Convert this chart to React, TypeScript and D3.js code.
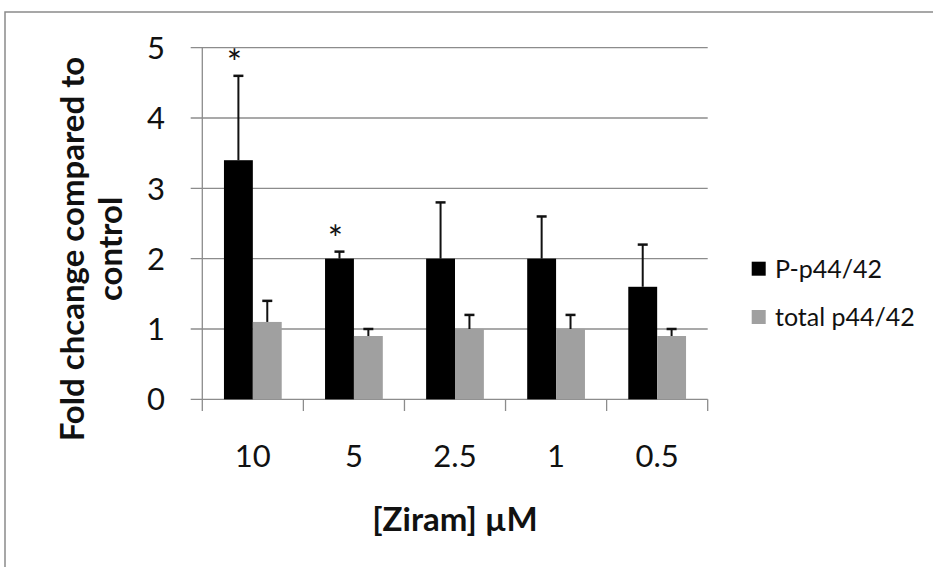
import React from "react";
import * as d3 from "d3";

const categories = ["10", "5", "2.5", "1", "0.5"];
const seriesNames = ["P-p44/42", "total p44/42"];
const pValues = [3.4, 2.0, 2.0, 2.0, 1.6];
const pErrors = [1.2, 0.1, 0.8, 0.6, 0.6];
const totalValues = [1.1, 0.9, 1.0, 1.0, 0.9];
const totalErrors = [0.3, 0.1, 0.2, 0.2, 0.1];
const significance = ["*", "*", "", "", ""];
const yTicks = [0, 1, 2, 3, 4, 5];
const seriesColors = ["#000000", "#a0a0a0"];

const W = 933;
const H = 567;
const FONT = "Lato, 'Open Sans', sans-serif";

export default function App() {
  const left = 202.3;
  const right = 707.7;
  const top = 47.7;
  const bottom = 399.3;

  const x = d3.scaleBand<string>().domain(categories).range([left, right]).paddingInner(0).paddingOuter(0);
  const y = d3.scaleLinear().domain([0, 5]).range([bottom, top]);
  const bw = x.bandwidth();
  const barW = bw / 3.5; // gap width 150%
  const sub = d3.scaleBand<string>().domain(seriesNames).range([0.75 * barW, 2.75 * barW]);

  const series = [
    { name: seriesNames[0], values: pValues, errors: pErrors, color: seriesColors[0] },
    { name: seriesNames[1], values: totalValues, errors: totalErrors, color: seriesColors[1] },
  ];

  const gridColor = "#8c8c8c";
  const boundaries = [...categories.map((c) => x(c) as number), right];

  return (
    <svg width={W} height={H} style={{ position: "absolute", left: 0, top: 0, background: "#fff" }}>
      <rect x={5} y={12} width={W + 20} height={H + 20} fill="#fff" stroke="#8a8a8a" strokeWidth={1.5} />
      {yTicks.map((t) => (
        <line key={"g" + t} x1={190.7} x2={right} y1={y(t)} y2={y(t)} stroke={gridColor} strokeWidth={1.3} />
      ))}
      <line x1={left} x2={left} y1={top} y2={bottom} stroke={gridColor} strokeWidth={1.3} />
      {boundaries.map((b, i) => (
        <line key={"xt" + i} x1={b} x2={b} y1={bottom} y2={411} stroke={gridColor} strokeWidth={1.3} />
      ))}
      {yTicks.map((t) => (
        <text key={"yl" + t} x={165} y={y(t)} dy="0.36em" textAnchor="end" fontFamily={FONT} fontSize={31} fill="#111">
          {t}
        </text>
      ))}
      {series.map((s) =>
        categories.map((c, i) => {
          const bx = (x(c) as number) + (sub(s.name) as number);
          return (
            <rect key={s.name + c} x={bx} y={y(s.values[i])} width={sub.bandwidth()} height={bottom - y(s.values[i])} fill={s.color} />
          );
        })
      )}
      {series.map((s) =>
        categories.map((c, i) => {
          const cx = (x(c) as number) + (sub(s.name) as number) + sub.bandwidth() / 2;
          const yTop = y(s.values[i] + s.errors[i]);
          return (
            <g key={"e" + s.name + c} stroke="#111" strokeWidth={2}>
              <line x1={cx} x2={cx} y1={y(s.values[i])} y2={yTop} />
              <line x1={cx - 5} x2={cx + 5} y1={yTop} y2={yTop} strokeWidth={2.5} />
            </g>
          );
        })
      )}
      {categories.map((c, i) =>
        significance[i] ? (
          <text
            key={"s" + c}
            x={(x(c) as number) + (sub(seriesNames[0]) as number) + sub.bandwidth() / 2 - 4}
            y={y(pValues[i] + pErrors[i])}
            textAnchor="middle"
            fontFamily={FONT}
            fontSize={36}
            fill="#111"
          >
            {significance[i]}
          </text>
        ) : null
      )}
      {categories.map((c) => (
        <text key={"xl" + c} x={(x(c) as number) + bw / 2} y={467} textAnchor="middle" fontFamily={FONT} fontSize={31} fill="#111">
          {c}
        </text>
      ))}
      <text x={(left + right) / 2} y={531} textAnchor="middle" fontFamily={FONT} fontSize={33} fontWeight="bold" fill="#111">
        [Ziram] µM
      </text>
      <g transform="translate(84,249) rotate(-90)">
        <text x={0} y={0} textAnchor="middle" fontFamily={FONT} fontSize={33} fontWeight="bold" fill="#111">
          Fold chcange compared to
        </text>
        <text x={0} y={38} textAnchor="middle" fontFamily={FONT} fontSize={33} fontWeight="bold" fill="#111">
          control
        </text>
      </g>
      {series.map((s, i) => (
        <g key={"lg" + s.name} transform={`translate(751.7, ${261.7 + i * 48.3})`}>
          <rect x={0} y={0} width={14} height={14} fill={s.color} />
          <text x={23.3} y={7} dy="0.36em" fontFamily={FONT} fontSize={25} fill="#111">
            {s.name}
          </text>
        </g>
      ))}
    </svg>
  );
}
